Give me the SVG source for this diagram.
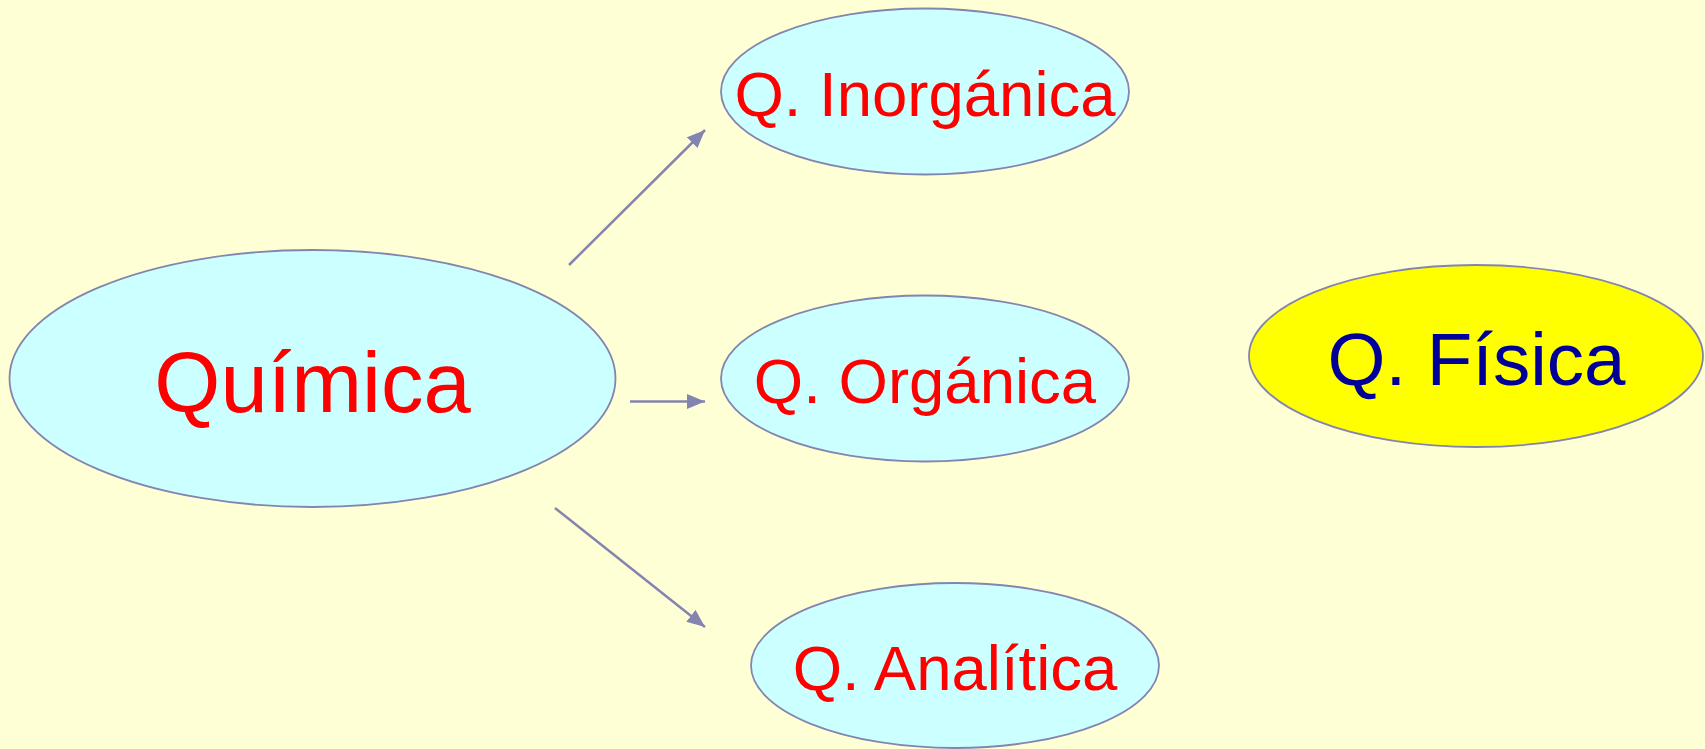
<svg xmlns="http://www.w3.org/2000/svg" width="1705" height="749" viewBox="0 0 1705 749">
<defs>
<style>
.node{fill:#CCFFFF;stroke:#8484B0;stroke-width:1.8}
.lbl{font-family:"Liberation Sans",Arial,sans-serif;fill:#FF0000;text-anchor:middle}
.conn{stroke:#8484B0;stroke-width:2.5;fill:none}
</style>
<marker id="arr" markerUnits="userSpaceOnUse" markerWidth="19" markerHeight="15" refX="18" refY="7.5" orient="auto">
<path d="M0,0 L18,7.5 L0,15 z" fill="#8484B0"/>
</marker>
</defs>
<rect x="0" y="0" width="1705" height="749" fill="#FFFFD5"/>
<g id="connectors">
<line class="conn" x1="569" y1="265" x2="705" y2="130" marker-end="url(#arr)"/>
<line class="conn" x1="630" y1="401.5" x2="705" y2="401.5" marker-end="url(#arr)"/>
<line class="conn" x1="555" y1="508" x2="705" y2="627" marker-end="url(#arr)"/>
</g>
<g id="quimica">
<ellipse class="node" cx="312.5" cy="378.5" rx="303" ry="128.5"/>
<text class="lbl" x="312.5" y="412" font-size="85">Química</text>
</g>
<g id="inorganica">
<ellipse class="node" cx="925" cy="91.5" rx="204" ry="83"/>
<text class="lbl" x="925" y="116" font-size="63.5">Q. Inorgánica</text>
</g>
<g id="organica">
<ellipse class="node" cx="925" cy="378.5" rx="204" ry="83"/>
<text class="lbl" x="925" y="402.5" font-size="63.5">Q. Orgánica</text>
</g>
<g id="analitica">
<ellipse class="node" cx="955" cy="665.5" rx="204" ry="82.5"/>
<text class="lbl" x="955" y="690" font-size="63.5">Q. Analítica</text>
</g>
<g id="fisica">
<ellipse cx="1476" cy="356" rx="227" ry="91" fill="#FFFF00" stroke="#8484B0" stroke-width="1.8"/>
<text class="lbl" x="1476.5" y="385" font-size="74.5" style="fill:#000099">Q. Física</text>
</g>
</svg>
